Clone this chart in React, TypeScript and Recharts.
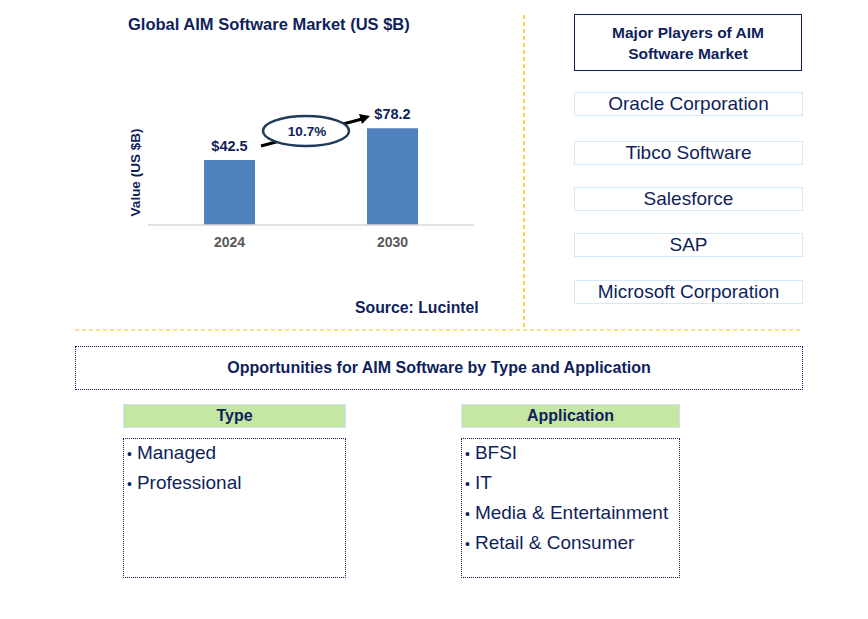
import React from 'react';
import { BarChart, Bar, XAxis, YAxis, LabelList } from 'recharts';

const years = ['2024', '2030'];
const marketValues = [42.5, 78.2];
const cagr = '10.7%';
const players = [
  'Oracle Corporation',
  'Tibco Software',
  'Salesforce',
  'SAP',
  'Microsoft Corporation',
];
const types = ['Managed', 'Professional'];
const applications = ['BFSI', 'IT', 'Media & Entertainment', 'Retail & Consumer'];

const NAVY = '#0f1f5c';
const FONT = '"Liberation Sans", Arial, sans-serif';

const chartData = years.map((year, i) => ({ year, value: marketValues[i] }));

const playerTops = [92, 141, 187, 233, 280];

const App = () => {
  return (
    <div
      style={{
        position: 'absolute',
        left: 0,
        top: 0,
        width: 868,
        height: 619,
        background: '#fff',
        fontFamily: FONT,
        color: NAVY,
        overflow: 'hidden',
      }}
    >
      {/* chart title */}
      <div
        style={{
          position: 'absolute',
          left: 128,
          top: 15,
          fontSize: 16.5,
          fontWeight: 'bold',
          whiteSpace: 'nowrap',
        }}
      >
        Global AIM Software Market (US $B)
      </div>

      <div style={{ position: 'absolute', left: 100, top: 60 }}>
        <BarChart
          width={400}
          height={200}
          data={chartData}
          margin={{ top: 0, right: 26, bottom: 5, left: 0 }}
        >
          <XAxis
            dataKey='year'
            height={30}
            tickLine={false}
            axisLine={{ stroke: '#d9d9d9', strokeWidth: 1.5 }}
            tick={{ fill: '#595959', fontSize: 14, fontWeight: 'bold', fontFamily: FONT }}
            dy={4}
          />
          <YAxis
            width={48}
            scale='log'
            domain={[12.2, 290]}
            tick={false}
            axisLine={false}
            tickLine={false}
            label={{
              value: 'Value (US $B)',
              angle: -90,
              position: 'center',
              dx: 11,
              dy: 30,
              style: { fill: NAVY, fontSize: 13.5, fontWeight: 'bold', fontFamily: FONT },
            }}
          />
          <Bar dataKey='value' fill='#4f81bd' barSize={51} isAnimationActive={false}>
            <LabelList
              dataKey='value'
              position='top'
              offset={9}
              formatter={(v: any) => `$${v}`}
              style={{ fill: NAVY, fontSize: 14.5, fontWeight: 'bold', fontFamily: FONT }}
            />
          </Bar>
        </BarChart>
      </div>

      {/* CAGR annotation */}
      <svg
        width={868}
        height={619}
        style={{ position: 'absolute', left: 0, top: 0, pointerEvents: 'none' }}
      >
        <line x1={261} y1={146} x2={362} y2={119} stroke='#000' strokeWidth={3} />
        <polygon points='370,116 359,114 362,124' fill='#000' />
        <ellipse cx={306} cy={131} rx={43} ry={15} fill='#fff' stroke='#1f3a5a' strokeWidth={2.5} />
        <text
          x={307}
          y={136}
          textAnchor='middle'
          fontSize={13.5}
          fontWeight='bold'
          fill={NAVY}
          fontFamily={FONT}
        >
          {cagr}
        </text>
        <line x1={524} y1={15} x2={524} y2={328} stroke='#ffc000' strokeWidth={1.5} strokeDasharray='4 3' />
        <line x1={75} y1={330} x2={803} y2={330} stroke='#ffd966' strokeWidth={1.5} strokeDasharray='4 3' />
      </svg>

      <div
        style={{
          position: 'absolute',
          left: 355,
          top: 299,
          fontSize: 15.8,
          fontWeight: 'bold',
          whiteSpace: 'nowrap',
        }}
      >
        Source: Lucintel
      </div>

      {/* major players */}
      <div
        style={{
          position: 'absolute',
          left: 574,
          top: 14,
          width: 226,
          height: 55,
          border: `1.5px solid ${NAVY}`,
          display: 'flex',
          alignItems: 'center',
          justifyContent: 'center',
          textAlign: 'center',
          fontSize: 15.5,
          fontWeight: 'bold',
          lineHeight: '21px',
        }}
      >
        Major Players of AIM
        <br />
        Software Market
      </div>
      {players.map((p, i) => (
        <div
          key={p}
          style={{
            position: 'absolute',
            left: 574,
            top: playerTops[i],
            width: 227,
            height: 22,
            border: '1.5px solid #d5e8f7',
            textAlign: 'center',
            fontSize: 19,
            lineHeight: '22px',
            whiteSpace: 'nowrap',
          }}
        >
          {p}
        </div>
      ))}

      {/* opportunities */}
      <div
        style={{
          position: 'absolute',
          left: 75,
          top: 346,
          width: 726,
          height: 42,
          border: `1.5px dotted ${NAVY}`,
          display: 'flex',
          alignItems: 'center',
          justifyContent: 'center',
          fontSize: 16,
          fontWeight: 'bold',
        }}
      >
        Opportunities for AIM Software by Type and Application
      </div>

      {[
        { title: 'Type', items: types, left: 123, width: 221 },
        { title: 'Application', items: applications, left: 461, width: 217 },
      ].map((col) => (
        <React.Fragment key={col.title}>
          <div
            style={{
              position: 'absolute',
              left: col.left,
              top: 404,
              width: col.width,
              height: 22,
              background: '#c6e6a3',
              border: '1px solid #cfe4f5',
              textAlign: 'center',
              fontSize: 16,
              fontWeight: 'bold',
              lineHeight: '22px',
            }}
          >
            {col.title}
          </div>
          <div
            style={{
              position: 'absolute',
              left: col.left,
              top: 438,
              width: col.width - 3,
              height: 138,
              border: `1.5px dotted ${NAVY}`,
              fontSize: 19,
              paddingLeft: 3,
            }}
          >
            {col.items.map((it, i) => (
              <div
                key={it}
                style={{
                  position: 'absolute',
                  left: 3,
                  top: i * 30 - 1,
                  height: 30,
                  lineHeight: '30px',
                  whiteSpace: 'nowrap',
                }}
              >
                <span style={{ fontSize: 14, marginRight: 5 }}>•</span>
                {it}
              </div>
            ))}
          </div>
        </React.Fragment>
      ))}
    </div>
  );
};

export default App;
